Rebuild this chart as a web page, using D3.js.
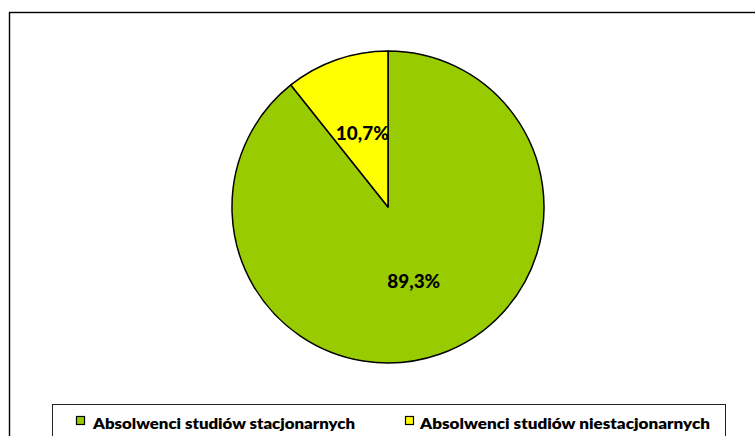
<!DOCTYPE html>
<html><head><meta charset="utf-8">
<script src="https://cdn.jsdelivr.net/npm/d3@7"></script>
<style>
html,body{margin:0;padding:0;background:#fff;}
svg{display:block;font-family:Lato,"Open Sans",sans-serif;}
</style></head>
<body>
<svg id="chart" width="755" height="436"></svg>
<script>
const categories = ["Absolwenci studiów stacjonarnych", "Absolwenci studiów niestacjonarnych"];
const values = [89.3, 10.7];
const labels = ["89,3%", "10,7%"];
const colors = ["#99CC00", "#FFFF00"];

const svg = d3.select("#chart");

// outer frame
svg.append("rect").attr("x", 9.5).attr("y", 12.5).attr("width", 760).attr("height", 440)
  .attr("fill", "none").attr("stroke", "#000").attr("stroke-width", 1.4);

const cx = 388, cy = 207, r = 156;
const pie = d3.pie().sort(null).value(d => d)(values);
const arc = d3.arc().innerRadius(0).outerRadius(r);
const g = svg.append("g").attr("transform", `translate(${cx},${cy})`);
g.selectAll("path").data(pie).join("path")
  .attr("d", arc)
  .attr("fill", (d, i) => colors[i])
  .attr("stroke", "#000").attr("stroke-width", 1.5).attr("stroke-linejoin", "round");
g.selectAll("text").data(pie).join("text")
  .attr("transform", d => { const c = arc.centroid(d); return `translate(${c[0]},${c[1]})`; })
  .attr("text-anchor", "middle").attr("dominant-baseline", "central")
  .attr("font-weight", 900).attr("font-size", 18).attr("fill", "#000")
  .attr("textLength", 53).attr("lengthAdjust", "spacingAndGlyphs")
  .text((d, i) => labels[i]);

// legend
const lg = svg.append("g");
lg.append("rect").attr("x", 52.5).attr("y", 404.5).attr("width", 673).attr("height", 60)
  .attr("fill", "#fff").attr("stroke", "#222").attr("stroke-width", 1);
const items = [{sx: 76, tx: 93, tw: 262}, {sx: 405, tx: 420, tw: 290}];
categories.forEach((c, i) => {
  lg.append("rect").attr("x", items[i].sx + 0.5).attr("y", 416.5).attr("width", 8).attr("height", 8)
    .attr("fill", colors[i]).attr("stroke", "#000").attr("stroke-width", 1.2);
  lg.append("text").attr("x", items[i].tx).attr("y", 423)
    .attr("dominant-baseline", "central").attr("font-weight", 800).attr("font-size", 15)
    .attr("textLength", items[i].tw).attr("lengthAdjust", "spacingAndGlyphs")
    .text(c);
});
</script>
</body></html>
